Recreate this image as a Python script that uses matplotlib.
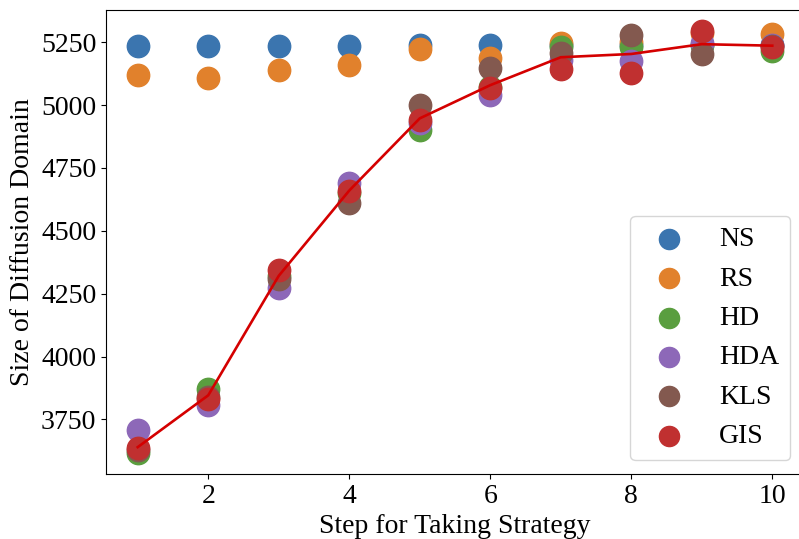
import numpy as np
import matplotlib
matplotlib.use('Agg')
import matplotlib.pyplot as plt

plt.rcParams['font.family'] = ['Liberation Serif', 'DejaVu Serif']

steps = [1, 2, 3, 4, 5, 6, 7, 8, 9, 10]
NS = [5235, 5235, 5235, 5235, 5240, 5238, 5240, 5240, 5240, 5240]
RS = [5118, 5106, 5138, 5158, 5222, 5186, 5247, 5250, 5285, 5282]
HD = [3617, 3870, 4320, 4650, 4899, 5070, 5231, 5230, 5240, 5216]
HDA = [3707, 3807, 4273, 4689, 4930, 5039, 5180, 5174, 5246, 5240]
KLS = [3630, 3840, 4310, 4612, 4999, 5146, 5205, 5278, 5202, 5235]
GIS = [3636, 3830, 4345, 4660, 4939, 5067, 5142, 5126, 5294, 5230]
trend = [3640, 3846, 4321, 4660, 4947, 5079, 5190, 5203, 5242, 5236]

names = ['NS', 'RS', 'HD', 'HDA', 'KLS', 'GIS']
series = [NS, RS, HD, HDA, KLS, GIS]
colors = ['#3b75af', '#e1812c', '#5a9e3f', '#8d68b8', '#83594f', '#c03030']

fig = plt.figure(figsize=(7.99, 5.39), dpi=100)
# the original figure is cropped on the right, so the axes run past the edge
ax = fig.add_axes([106/799, 65/539, 698/799, 464/539])

for name, ys, c in zip(names, series, colors):
    ax.scatter(steps, ys, s=260, color=c, label=name, zorder=2)

ax.plot(steps, trend, color='#d40000', lw=1.9, zorder=3)

ax.set_xticks([2, 4, 6, 8, 10])
ax.set_yticks([3750, 4000, 4250, 4500, 4750, 5000, 5250])
ax.tick_params(labelsize=20)
ax.set_xlabel('Step for Taking Strategy', fontsize=20, labelpad=4)
ax.set_ylabel('Size of Diffusion Domain', fontsize=20)

ax.legend(loc='lower right', fontsize=20, markerscale=0.9)

fig.savefig('out.png', dpi=100)
